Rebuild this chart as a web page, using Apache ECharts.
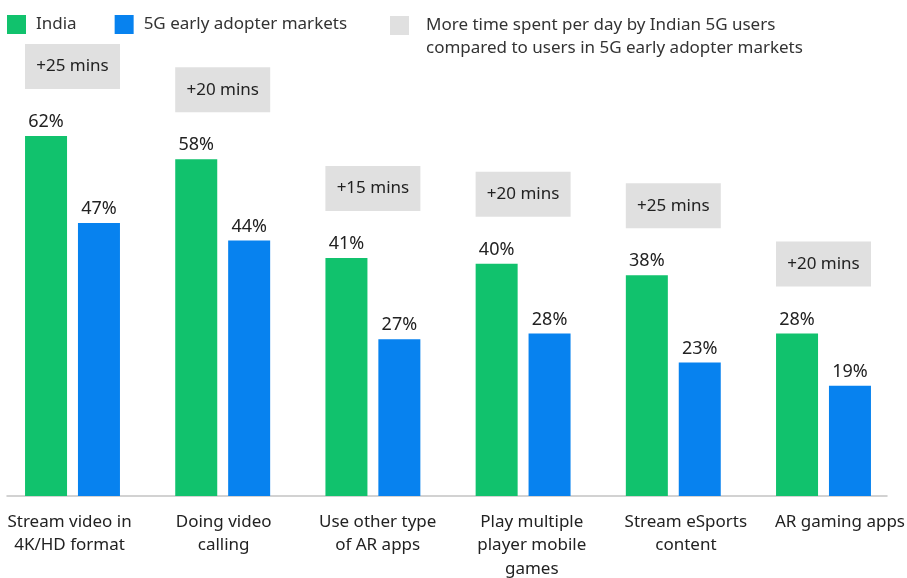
<!DOCTYPE html>
<html><head><meta charset="utf-8">
<script src="https://cdn.jsdelivr.net/npm/echarts@6/dist/echarts.min.js"></script>
<style>html,body{margin:0;padding:0;background:#fff}#c{width:907px;height:578px}</style>
</head><body><div id="c"></div>
<script>
const categories = ['Stream video in\n4K/HD format', 'Doing video\ncalling', 'Use other type\nof AR apps', 'Play multiple\nplayer mobile\ngames', 'Stream eSports\ncontent', 'AR gaming apps'];
const india = [62, 58, 41, 40, 38, 28];
const earlyAdopters = [47, 44, 27, 28, 23, 19];
const extraMinutes = [25, 20, 15, 20, 25, 20];
const seriesNames = ['India', '5G early adopter markets', 'More time spent per day by Indian 5G users\ncompared to users in 5G early adopter markets'];

const FONT = 'Noto Sans';
const chart = echarts.init(document.getElementById('c'), null, {renderer: 'canvas'});
const gridTop = 31.5, gridBottom = 82;
const pctLabel = {show: true, position: 'top', distance: 5, formatter: '{c}%', fontFamily: FONT, fontSize: 18, color: '#222'};

chart.setOption({
  animation: false,
  backgroundColor: '#fff',
  legend: [
    {data: [seriesNames[0], seriesNames[1]], left: 7, top: 15, padding: 0, itemWidth: 19, itemHeight: 19, itemGap: 38, icon: 'rect', selectedMode: false,
     textStyle: {fontFamily: FONT, fontSize: 17, color: '#333', padding: [0, 0, 0, 5]}},
    {data: [seriesNames[2]], left: 390, top: 14, padding: 0, itemWidth: 19, itemHeight: 42,
     icon: 'path://M0,0H19V19H0Z M0,42H0.01V41.99H0Z', selectedMode: false,
     textStyle: {fontFamily: FONT, fontSize: 17, lineHeight: 23, color: '#333', padding: [0, 0, 0, 12]}}
  ],
  grid: [
    {left: -2.6, right: 8.4, top: gridTop, bottom: gridBottom, outerBoundsMode: 'none', containLabel: false},
    {left: 7, right: 20, top: gridTop, bottom: gridBottom, outerBoundsMode: 'none', containLabel: false},
    {left: -7.5, right: -10, top: gridTop, bottom: gridBottom, outerBoundsMode: 'none', containLabel: false}
  ],
  xAxis: [
    {type: 'category', gridIndex: 0, data: categories, axisLine: {show: false}, axisTick: {show: false}, axisLabel: {show: false}},
    {type: 'category', gridIndex: 1, data: categories, axisLine: {show: true, lineStyle: {color: '#c4c4c4', width: 1.5}}, axisTick: {show: false}, axisLabel: {show: false}},
    {type: 'category', gridIndex: 2, data: categories, axisLine: {show: false}, axisTick: {show: false},
     axisLabel: {show: true, interval: 0, hideOverlap: false, margin: 14, fontFamily: FONT, fontSize: 17, lineHeight: 23.5, color: '#222'}}
  ],
  yAxis: [
    {type: 'value', gridIndex: 0, min: 0, max: 80, show: false},
    {type: 'value', gridIndex: 1, min: 0, max: 80, show: false},
    {type: 'value', gridIndex: 2, min: 0, max: 80, show: false}
  ],
  series: [
    {name: seriesNames[0], type: 'bar', xAxisIndex: 0, yAxisIndex: 0, data: india, barWidth: 42, barGap: '26%', itemStyle: {color: '#11c26d'}, label: pctLabel},
    {name: seriesNames[1], type: 'bar', xAxisIndex: 0, yAxisIndex: 0, data: earlyAdopters, barWidth: 42, barGap: '26%', itemStyle: {color: '#0782ef'}, label: pctLabel},
    {name: seriesNames[2], type: 'custom', xAxisIndex: 0, yAxisIndex: 0, clip: false, itemStyle: {color: '#e0e0e0'},
     data: extraMinutes.map((m, i) => [i, india[i], m]),
     encode: {x: 0, y: 1},
     renderItem: (params, api) => {
       const p = api.coord([api.value(0), api.value(1)]);
       const w = 95, h = 45, gap = 47;
       const x = p[0] - w / 2, y = p[1] - gap - h;
       return {type: 'group', children: [
         {type: 'rect', shape: {x: x, y: y, width: w, height: h}, style: {fill: '#e0e0e0'}},
         {type: 'text', style: {text: '+' + api.value(2) + ' mins', x: p[0], y: y + h / 2, align: 'center', verticalAlign: 'middle', fill: '#222', font: '17px "' + FONT + '"'}}
       ]};
     }}
  ]
});
</script></body></html>
